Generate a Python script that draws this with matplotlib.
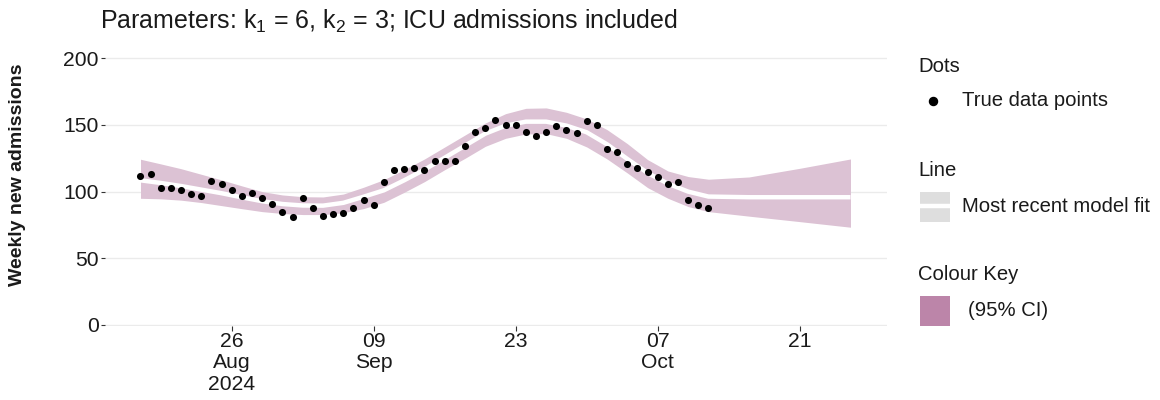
import matplotlib
matplotlib.use("Agg")
import matplotlib.pyplot as plt
import matplotlib.patches as patches
from matplotlib.lines import Line2D
import pandas as pd

plt.rcParams['font.family'] = ['Liberation Sans', 'DejaVu Sans']
plt.rcParams['mathtext.fontset'] = 'custom'
plt.rcParams['mathtext.rm'] = 'Liberation Sans'
plt.rcParams['mathtext.it'] = 'Liberation Sans'

# --- observed weekly admissions (one point per day, 17 Aug -> 12 Oct 2024)
obs_start = "2024-08-17"
obs_values = [112, 113, 103, 103, 101, 98, 97, 108, 106, 101,
              97, 99, 95, 91, 85, 81, 95, 88, 82, 83,
              84, 88, 94, 90, 107, 116, 117, 118, 116, 123,
              123, 123, 134, 145, 148, 154, 150, 150, 145, 142,
              145, 149, 146, 144, 153, 150, 132, 130, 121, 118,
              115, 111, 106, 107, 94, 90, 88]

fit_dates = ["2024-08-17", "2024-08-19", "2024-08-21", "2024-08-23",
             "2024-08-25", "2024-08-27", "2024-08-29", "2024-08-31",
             "2024-09-02", "2024-09-04", "2024-09-06", "2024-09-08",
             "2024-09-10", "2024-09-12", "2024-09-14", "2024-09-16",
             "2024-09-18", "2024-09-20", "2024-09-22", "2024-09-24",
             "2024-09-26", "2024-09-28", "2024-09-30", "2024-10-02",
             "2024-10-04", "2024-10-06", "2024-10-08", "2024-10-10",
             "2024-10-12", "2024-10-16", "2024-10-21", "2024-10-26"]
fit_mid = [108.5, 106.5, 104.2, 101.5, 98.8, 95.7, 92.8, 90.7,
           89.6, 89.5, 91.6, 96.2, 101.0, 108.5, 116.5, 125.5,
           134.5, 143.5, 149.5, 152.5, 152.5, 149.5, 144.5, 135.5,
           124.5, 114.0, 106.0, 100.0, 96.3, 95.8, 95.8, 95.8]
fit_upper = [124.3, 120.8, 117.2, 113.0, 108.8, 104.3, 100.0, 97.5,
             96.2, 96.0, 98.2, 103.3, 109.0, 116.5, 124.5, 133.5,
             142.5, 151.5, 158.5, 162.5, 162.8, 159.5, 154.5, 146.5,
             136.0, 124.0, 115.5, 111.3, 109.3, 111.0, 117.5, 124.5]
fit_lower = [95.0, 94.6, 93.6, 91.8, 89.5, 87.2, 85.0, 83.6,
             82.8, 82.8, 84.2, 87.3, 92.0, 99.5, 107.5, 116.5,
             125.0, 134.0, 140.0, 143.3, 143.5, 140.0, 133.5, 124.5,
             114.0, 103.0, 95.0, 88.8, 85.0, 81.6, 77.5, 73.3]

tick_dates = ["2024-08-26", "2024-09-09", "2024-09-23", "2024-10-07", "2024-10-21"]
tick_labels = ["26\nAug\n2024", "09\nSep", "23", "07\nOct", "21"]
y_ticks = [0, 50, 100, 150, 200]

ribbon_col = '#dcc2d4'
key_col = '#bc85a9'
text_col = '#1a1a1a'

W, H = 1160, 400
fig = plt.figure(figsize=(W / 100, H / 100), dpi=100)
ax = fig.add_axes([105 / W, (H - 326) / H, (887 - 105) / W, (326 - 45) / H])

obs_dates = pd.date_range(obs_start, periods=len(obs_values), freq="D")
fd = pd.to_datetime(fit_dates)

ax.fill_between(fd, fit_lower, fit_upper, color=ribbon_col, lw=0, zorder=1)
ax.plot(fd, fit_mid, color='white', lw=3.2, solid_capstyle='butt', zorder=2)
ax.scatter(obs_dates, obs_values, s=26, color='black', lw=0, zorder=3)

x0 = pd.Timestamp("2024-08-26")
ax.set_xlim(x0 - pd.Timedelta(days=12.5), x0 + pd.Timedelta(days=64.6))
ax.set_ylim(-0.8, 210)

ax.set_xticks(pd.to_datetime(tick_dates))
ax.set_xticklabels(tick_labels, linespacing=1.18)
ax.set_yticks(y_ticks)
ax.set_yticklabels([str(v) for v in y_ticks])
ax.tick_params(axis='both', width=0.8, color='#333333',
               labelsize=15.2, labelcolor=text_col)
ax.tick_params(axis='x', length=3.6, pad=0.5)
ax.tick_params(axis='y', length=3.0, pad=1.5)
ax.grid(axis='y', color='#ebebeb', lw=1.0, zorder=0)
ax.set_axisbelow(True)
for s in ax.spines.values():
    s.set_visible(False)

# title and y label
fig.text(100 / W, (H - 21) / H, "Parameters: k$_1$ = 6, k$_2$ = 3; ICU admissions included",
         fontsize=18, color=text_col, ha='left', va='center')
fig.text(18 / W, (H - 175) / H, "Weekly new admissions", rotation=90,
         fontsize=14, fontweight='bold', color=text_col, ha='center', va='center')


# legend, drawn by hand in figure pixels
def px(x, y):
    return x / W, (H - y) / H


leg_fs = 14.6
fig.text(*px(918, 66), "Dots", fontsize=leg_fs, color=text_col, va='center')
fig.add_artist(Line2D([933 / W], [(H - 101) / H], marker='o', ms=5.8,
                      color='black', lw=0))
fig.text(*px(962, 101), "True data points", fontsize=leg_fs, color=text_col, va='center')

fig.text(*px(918, 171), "Line", fontsize=leg_fs, color=text_col, va='center')
fig.add_artist(patches.Rectangle(px(920, 222), 30 / W, 30 / H, color='#dedede', lw=0))
fig.add_artist(Line2D([920 / W, 950 / W], [(H - 206) / H] * 2, color='white', lw=3.2))
fig.text(*px(962, 206), "Most recent model fit", fontsize=leg_fs, color=text_col, va='center')

fig.text(*px(918, 274), "Colour Key", fontsize=leg_fs, color=text_col, va='center')
fig.add_artist(patches.Rectangle(px(920, 326), 30 / W, 30 / H, color=key_col, lw=0))
fig.text(*px(968, 311), "(95% CI)", fontsize=leg_fs, color=text_col, va='center')

fig.savefig("out.png", dpi=100)
